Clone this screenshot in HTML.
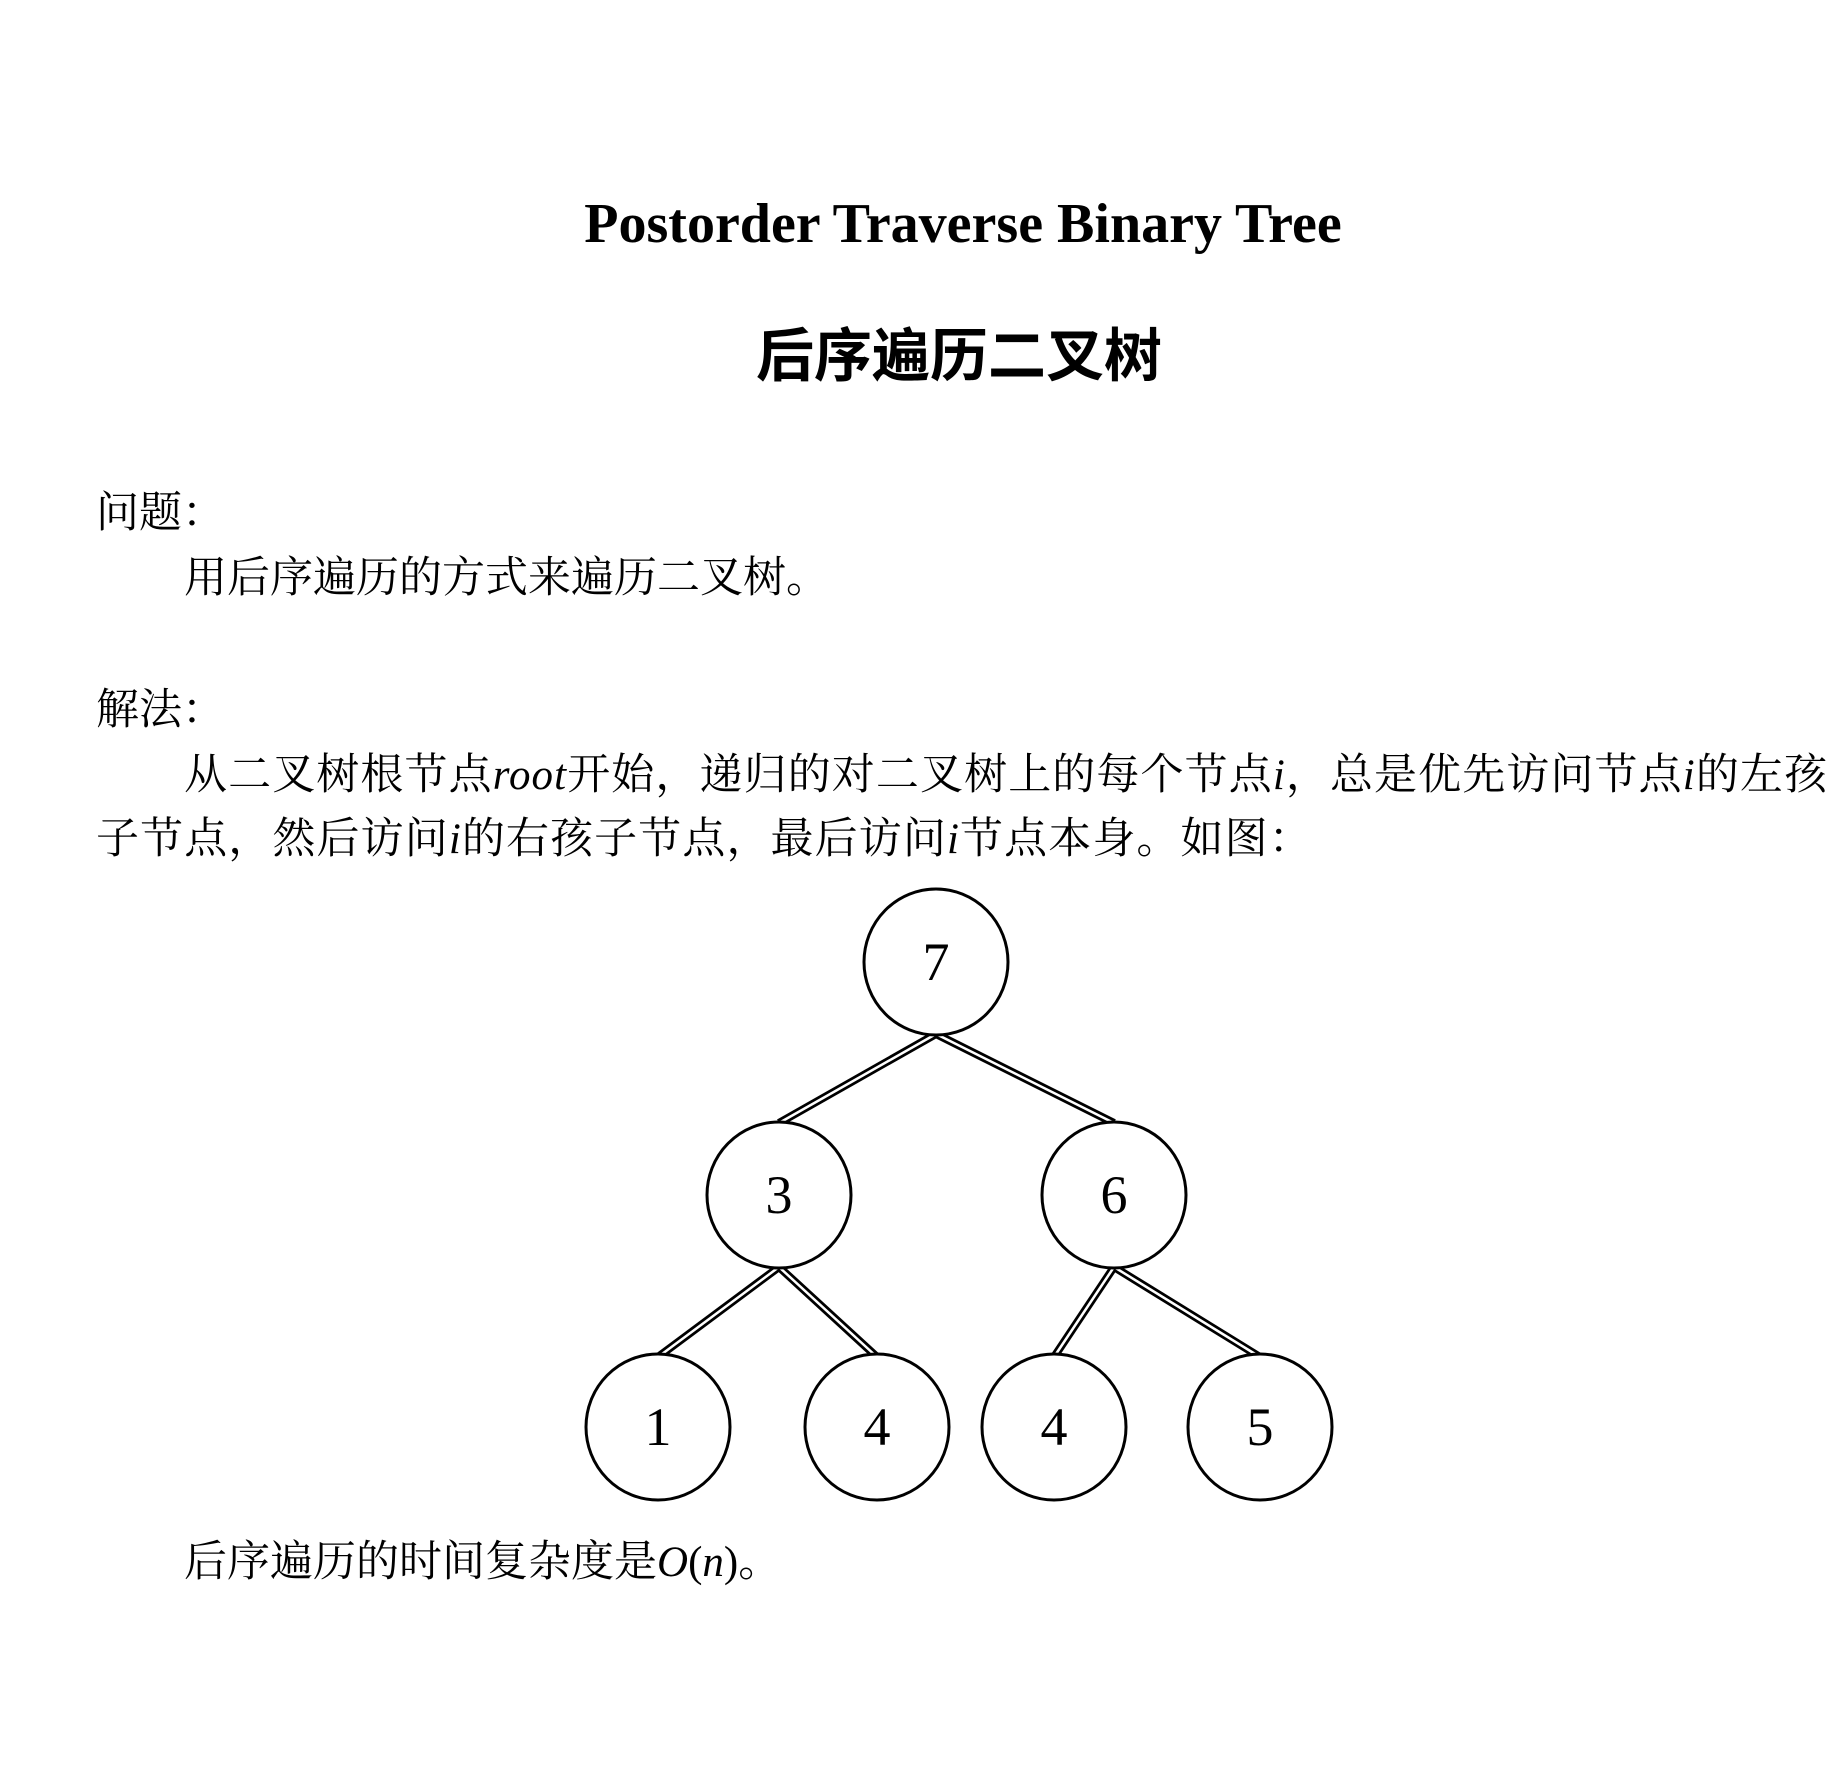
<!DOCTYPE html>
<html><head><meta charset="utf-8"><style>
html,body{margin:0;padding:0;background:#fff;}
body{width:1833px;height:1784px;position:relative;overflow:hidden;}
.t{position:absolute;white-space:nowrap;color:#000;font-family:"Liberation Serif","Noto Serif CJK SC",serif;font-size:43px;line-height:1;}
.m{font-family:"Liberation Serif",serif;font-style:italic;}
</style></head><body>
<div class="t" style="left:0;width:1926px;text-align:center;top:196px;font-size:56px;font-weight:bold;">Postorder Traverse Binary Tree</div>
<div class="t" style="left:0;width:1918px;text-align:center;top:322px;font-size:58px;font-weight:bold;font-family:'Noto Sans CJK SC',sans-serif;">后序遍历二叉树</div>
<div class="t" style="left:96px;top:492px;">问题：</div>
<div class="t" style="left:184px;top:557px;">用后序遍历的方式来遍历二叉树。</div>
<div class="t" style="left:96px;top:689px;">解法：</div>
<div class="t" style="left:184px;top:754px;letter-spacing:1.1px;">从二叉树根节点<span class="m">root</span>开始，递归的对二叉树上的每个节点<span class="m">i</span>，总是优先访问节点<span class="m">i</span>的左孩</div>
<div class="t" style="left:96px;top:818px;letter-spacing:1.1px;">子节点，然后访问<span class="m">i</span>的右孩子节点，最后访问<span class="m">i</span>节点本身。如图：</div>
<div class="t" style="left:184px;top:1541px;">后序遍历的时间复杂度是<span class="m">O</span>(<span class="m">n</span>)。</div>
<svg width="1833" height="1784" style="position:absolute;left:0;top:0" font-family="Liberation Serif, serif" font-size="54">
<g transform="translate(-5,-5)">
<g fill="none" stroke-linecap="butt">
<g stroke="#000" stroke-width="8">
<line x1="941" y1="1039" x2="784" y2="1128"/><line x1="941" y1="1039" x2="1119" y2="1128"/>
<line x1="784" y1="1272" x2="663" y2="1362"/><line x1="784" y1="1272" x2="882" y2="1362"/>
<line x1="1119" y1="1272" x2="1059" y2="1362"/><line x1="1119" y1="1272" x2="1265" y2="1362"/>
</g>
<g stroke="#fff" stroke-width="2.5">
<line x1="941" y1="1039" x2="784" y2="1128"/><line x1="941" y1="1039" x2="1119" y2="1128"/>
<line x1="784" y1="1272" x2="663" y2="1362"/><line x1="784" y1="1272" x2="882" y2="1362"/>
<line x1="1119" y1="1272" x2="1059" y2="1362"/><line x1="1119" y1="1272" x2="1265" y2="1362"/>
</g>
<g stroke="#000" stroke-width="3" fill="#fff">
<ellipse cx="941" cy="967" rx="72" ry="73"/>
<ellipse cx="784" cy="1200" rx="72" ry="73"/><ellipse cx="1119" cy="1200" rx="72" ry="73"/>
<ellipse cx="663" cy="1432" rx="72" ry="73"/><ellipse cx="882" cy="1432" rx="72" ry="73"/>
<ellipse cx="1059" cy="1432" rx="72" ry="73"/><ellipse cx="1265" cy="1432" rx="72" ry="73"/>
</g>
</g>
<g text-anchor="middle" fill="#000">
<text x="941" y="985">7</text><text x="784" y="1218">3</text><text x="1119" y="1218">6</text>
<text x="663" y="1450">1</text><text x="882" y="1450">4</text><text x="1059" y="1450">4</text><text x="1265" y="1450">5</text>
</g>
</g>
</svg>
</body></html>
